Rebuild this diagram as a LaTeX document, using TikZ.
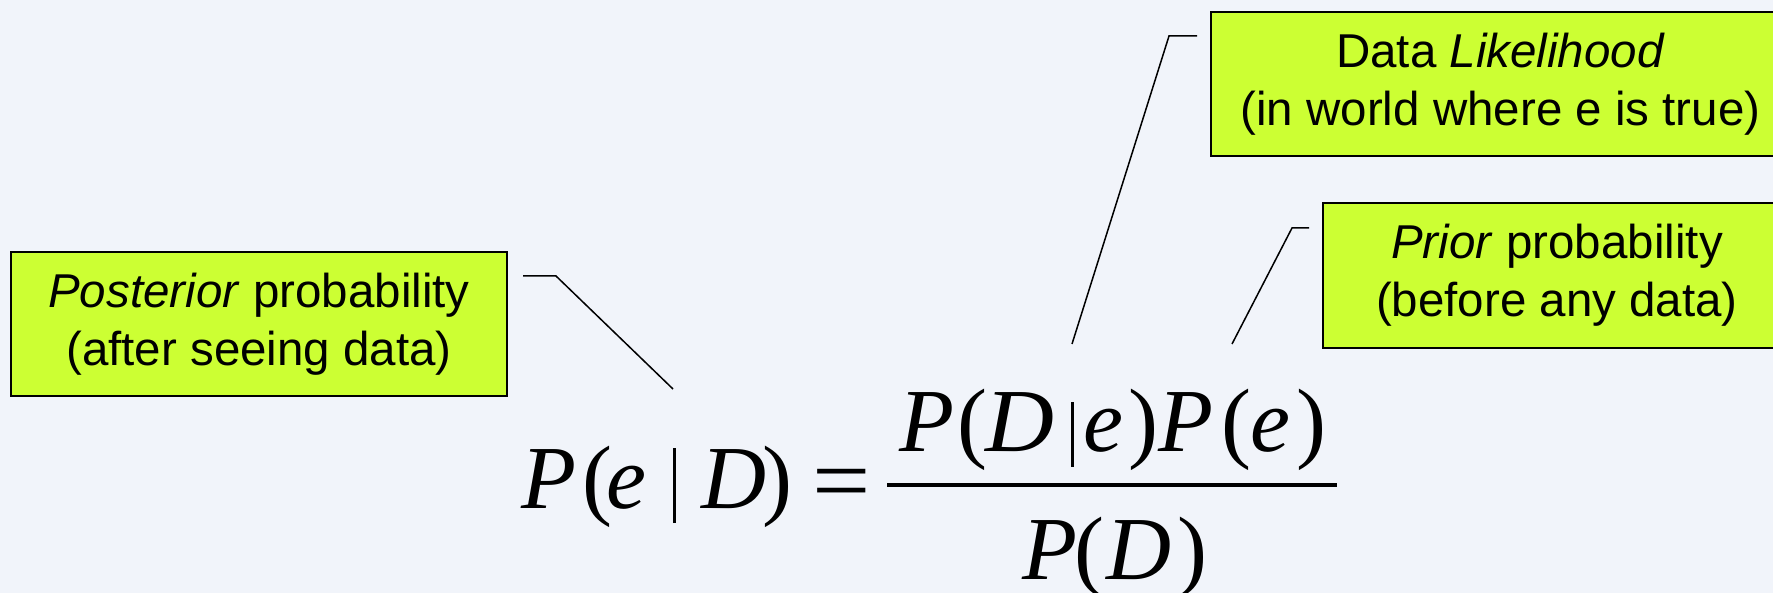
\documentclass[tikz,border=0pt]{standalone}
\usepackage{fontspec}
\setmainfont{Liberation Sans}
\newfontfamily\tnr{Liberation Serif}
\definecolor{bgc}{RGB}{241,244,250}
\definecolor{boxc}{RGB}{204,255,51}
\newcommand{\vi}[1]{{\itshape #1}}
\newcommand{\hs}[1]{\hspace{#1pt}}
\begin{document}
\begin{tikzpicture}[x=1pt,y=-1pt,
  note/.style={draw=black, line width=2pt, fill=boxc, inner sep=0pt, align=center,
    font=\fontsize{47.5}{58}\selectfont, text=black},
  callout/.style={draw=black, line width=1.5pt},
  eq/.style={inner sep=0pt, font=\tnr\fontsize{90}{100}\selectfont, text=black, anchor=base west}]
\fill[bgc] (0,0) rectangle (1773,593);
\useasboundingbox (0,0) rectangle (1773,593);
\clip (0,0) rectangle (1773,593);
% boxes
\node[note, minimum width=496pt, minimum height=144pt] (post) at (259,324)
  {\textit{Posterior} probability\\(after seeing data)};
\node[note, minimum width=579pt, minimum height=144pt] (like) at (1500.5,84)
  {Data \textit{Likelihood}\\(in world where e is true)};
\node[note, minimum width=468pt, minimum height=145pt] (prior) at (1557,275.5)
  {\textit{Prior} probability\\(before any data)};
% callouts
\coordinate (pa) at (523,276); \coordinate (pb) at (556,276); \coordinate (pc) at (673,389);
\coordinate (la) at (1197,36); \coordinate (lb) at (1169,36); \coordinate (lc) at (1072,344);
\coordinate (ra) at (1309,228); \coordinate (rb) at (1292,228); \coordinate (rc) at (1232,344);
\draw[callout] (pa) -- (pb) -- (pc);
\draw[callout] (la) -- (lb) -- (lc);
\draw[callout] (ra) -- (rb) -- (rc);
% equation
\node[eq] (lhs) at (521.5,508)
  {\vi{P}\hs{6}(\hs{-6}\vi{e}\hs{26.5}\rule[-15pt]{3pt}{75pt}\hs{25}\vi{D}\hs{-3.5})};
\node[eq] (eqs) at (812,512) {\scalebox{1.15}[1.05]{=}};
\node[eq] (num) at (899,452)
  {\vi{P}\hs{3.5}(\hs{-2}\scalebox{1.06}[1]{\vi{D}}\hs{16}\rule[-15pt]{3pt}{65pt}\hs{10}\vi{e}\hs{5})\hs{0.5}\vi{P}\hs{8}(\hs{-1}\vi{e}\hs{6})};
\node[eq] (den) at (1022,579)
  {\vi{P}\hs{-3}(\hs{2.5}\vi{D}\hs{6})};
\coordinate (fa) at (887,485); \coordinate (fb) at (1337,485);
\draw[line width=4.5pt] (fa) -- (fb);
\end{tikzpicture}
\end{document}
